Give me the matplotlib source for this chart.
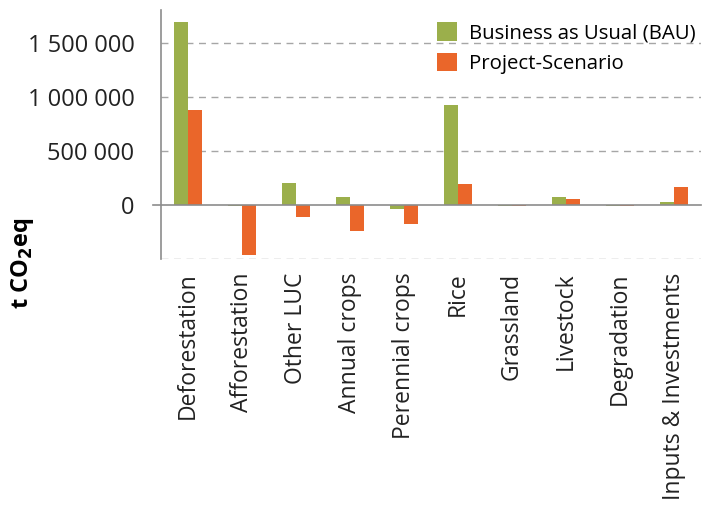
import matplotlib
matplotlib.use("Agg")
import matplotlib.pyplot as plt
import numpy as np

categories = ["Deforestation", "Afforestation", "Other LUC", "Annual crops", "Perennial crops",
              "Rice", "Grassland", "Livestock", "Degradation", "Inputs & Investments"]
bau = [1700000, -8000, 200000, 75000, -40000, 930000, -6000, 75000, -6000, 30000]
project = [880000, -470000, -110000, -240000, -180000, 190000, -6000, 55000, -6000, 170000]
yticks = [0, 500000, 1000000, 1500000]
ytick_labels = ["0", "500 000", "1 000 000", "1 500 000"]
series_names = ["Business as Usual (BAU)", "Project-Scenario"]

GREEN = "#9BAF4B"
ORANGE = "#EA662A"

plt.rcParams['font.family'] = ['Open Sans', 'DejaVu Sans']

fig = plt.figure(figsize=(7.06, 5.07), dpi=100)
ax = fig.add_axes([161/706, 1 - 258.7/507, (701-161)/706, (258.7-10)/507])

x = np.arange(len(categories))
w = 0.265
ax.bar(x - w/2, bau, width=w, color=GREEN, label=series_names[0], zorder=3)
ax.bar(x + w/2, project, width=w, color=ORANGE, label=series_names[1], zorder=3)

ax.set_xlim(-0.5, len(categories) - 0.5)
ax.set_ylim(-500000, 1810000)

for v in [-500000, 500000, 1000000, 1500000]:
    ax.axhline(v, color="#A6A6A6", lw=1, ls=(0, (5, 4)), zorder=1)
ax.axhline(0, xmin=-0.015, color="#8C8C8C", lw=1.2, zorder=4, clip_on=False)

for s in ["top", "right", "bottom"]:
    ax.spines[s].set_visible(False)
ax.spines["left"].set_color("#8C8C8C")
ax.spines["left"].set_linewidth(1.2)

ax.set_yticks(yticks)
ax.set_yticklabels(ytick_labels, fontsize=17, color="#222222")
ax.tick_params(axis="y", length=0, pad=19)

ax.set_xticks(x)
ax.set_xticklabels(categories, rotation=90, fontsize=16.5, color="#222222", va="top")
ax.tick_params(axis="x", length=0, pad=10)

fig.text(0.032, 1 - 263/507, r"t CO$_\mathbf{2}$eq", rotation=90, fontsize=17, fontweight="bold",
         ha="center", va="center")

leg = ax.legend(loc="upper right", bbox_to_anchor=(1.012, 1.0), frameon=False, fontsize=14.7,
                handlelength=1.0, handleheight=1.0, handletextpad=0.55, labelspacing=0.45,
                borderaxespad=0.2)

fig.savefig("out.png", dpi=100)
